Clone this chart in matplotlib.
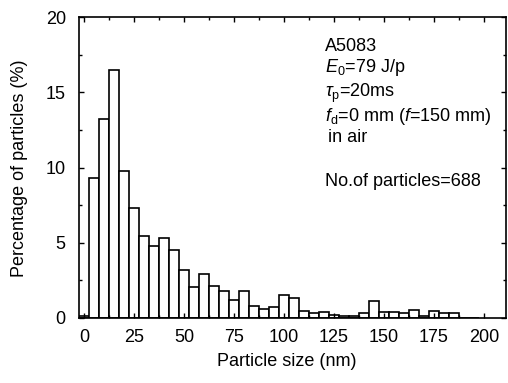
import matplotlib
matplotlib.use("Agg")
import matplotlib.pyplot as plt
from matplotlib.ticker import MultipleLocator

# histogram bins (bin centres, nm) and share of particles in each bin (%)
size_nm = [0, 5, 10, 15, 20, 25, 30, 35, 40, 45,
           50, 55, 60, 65, 70, 75, 80, 85, 90, 95,
           100, 105, 110, 115, 120, 125, 130, 135, 140, 145,
           150, 155, 160, 165, 170, 175, 180, 185, 190, 195]
percent = [0.15, 9.3, 13.2, 16.45, 9.75, 7.3, 5.45, 4.8, 5.3, 4.55,
           3.2, 2.05, 2.95, 2.1, 1.8, 1.2, 1.8, 0.8, 0.6, 0.75,
           1.5, 1.3, 0.45, 0.3, 0.4, 0.2, 0.15, 0.1, 0.35, 1.1,
           0.4, 0.4, 0.3, 0.55, 0.15, 0.45, 0.3, 0.3, 0.0, 0.0]

x_ticks = [0, 25, 50, 75, 100, 125, 150, 175, 200]
y_ticks = [0, 5, 10, 15, 20]

plt.rcParams["font.family"] = ["Liberation Sans", "DejaVu Sans"]
plt.rcParams["mathtext.fontset"] = "custom"
plt.rcParams["mathtext.rm"] = "Liberation Sans"
plt.rcParams["mathtext.it"] = "Liberation Sans:italic"

FS = 13

fig = plt.figure(figsize=(5.08, 3.83), dpi=100)
ax = fig.add_axes([79 / 508, 65 / 383, 427 / 508, 301 / 383])

ax.bar(size_nm, percent, width=5, align="center", color="white",
       edgecolor="black", linewidth=1.2)

ax.set_xlim(-2.5, 211)
ax.set_ylim(0, 20)
ax.set_xticks(x_ticks)
ax.set_yticks(y_ticks)
ax.xaxis.set_minor_locator(MultipleLocator(12.5))
ax.yaxis.set_minor_locator(MultipleLocator(2.5))
ax.tick_params(which="both", direction="in", top=True, right=True, width=1.0)
ax.tick_params(which="major", length=3.5, labelsize=FS)
ax.tick_params(which="minor", length=2.2)
ax.tick_params(axis="x", which="major", pad=8)
ax.tick_params(axis="y", which="major", pad=9.5)
for sp in ax.spines.values():
    sp.set_linewidth(1.2)

fig.text(20 / 508, (383 - 168) / 383, "Percentage of particles (%)",
         rotation=90, ha="center", va="center", fontsize=FS)
fig.text(287 / 508, (383 - 362) / 383, "Particle size (nm)",
         ha="center", va="center", fontsize=FS)

# experimental conditions, top right
tx = (325 - 79) / 427
def ypos(px):
    return (318 - px) / 301

ax.text(tx, ypos(51), "A5083", transform=ax.transAxes, fontsize=FS, va="baseline")
ax.text(tx, ypos(72), r"$E_\mathrm{0}$=79 J/p", transform=ax.transAxes, fontsize=FS, va="baseline")
ax.text(tx, ypos(97), r"$\tau_\mathrm{p}$=20ms", transform=ax.transAxes, fontsize=FS, va="baseline")
ax.text(tx, ypos(121), r"$f_\mathrm{d}$=0 mm ($f$=150 mm)", transform=ax.transAxes, fontsize=FS, va="baseline")
ax.text(tx + 0.006, ypos(142), "in air", transform=ax.transAxes, fontsize=FS, va="baseline")
ax.text(tx, ypos(186), "No.of particles=688", transform=ax.transAxes, fontsize=FS, va="baseline")

fig.savefig("out.png", dpi=100)
